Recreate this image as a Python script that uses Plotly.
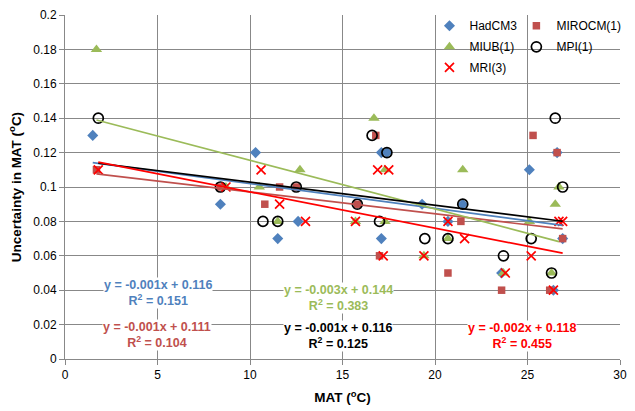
import numpy as np
import plotly.graph_objects as go

# ---------------- data ----------------
had_x = [1.5, 8.4, 10.3, 11.5, 12.6, 17.1, 17.4, 17.1, 19.3, 20.7, 21.5, 23.6, 25.1, 26.4, 26.6, 26.9]
had_y = [0.13, 0.09, 0.12, 0.07, 0.08, 0.12, 0.12, 0.07, 0.09, 0.08, 0.09, 0.05, 0.11, 0.04, 0.12, 0.07]

miroc_x = [1.7, 8.4, 10.8, 11.6, 12.5, 15.8, 16.8, 17.0, 20.7, 21.4, 23.6, 25.3, 26.2, 26.6, 26.9]
miroc_y = [0.11, 0.10, 0.09, 0.10, 0.10, 0.09, 0.13, 0.06, 0.05, 0.08, 0.04, 0.13, 0.04, 0.12, 0.07]

miub_x = [1.7, 8.7, 10.5, 11.5, 12.7, 15.7, 16.7, 17.3, 17.3, 19.4, 20.7, 21.5, 23.7, 25.1, 26.3, 26.5, 26.7]
miub_y = [0.18, 0.10, 0.10, 0.08, 0.11, 0.08, 0.14, 0.11, 0.08, 0.06, 0.07, 0.11, 0.05, 0.08, 0.05, 0.09, 0.10]

mpi_x = [1.8, 8.4, 10.7, 11.5, 12.5, 15.8, 16.6, 17.0, 17.4, 19.45, 20.7, 21.5, 23.7, 25.2, 26.3, 26.5, 26.9]
mpi_y = [0.14, 0.10, 0.08, 0.08, 0.10, 0.09, 0.13, 0.08, 0.12, 0.07, 0.07, 0.09, 0.06, 0.07, 0.05, 0.14, 0.10]

mri_x = [1.8, 8.7, 10.6, 11.6, 13.0, 15.7, 16.9, 17.2, 17.5, 19.4, 20.7, 21.6, 23.8, 25.2, 26.4, 26.7, 26.9]
mri_y = [0.11, 0.10, 0.11, 0.09, 0.08, 0.08, 0.11, 0.06, 0.11, 0.06, 0.08, 0.07, 0.05, 0.06, 0.04, 0.08, 0.08]

series_names = ["HadCM3", "MIROCM(1)", "MIUB(1)", "MPI(1)", "MRI(3)"]
trend_labels = [
    "y = -0.001x + 0.116<br>R<sup>2</sup> = 0.151",
    "y = -0.001x + 0.111<br>R<sup>2</sup> = 0.104",
    "y = -0.003x + 0.144<br>R<sup>2</sup> = 0.383",
    "y = -0.001x + 0.116<br>R<sup>2</sup> = 0.125",
    "y = -0.002x + 0.118<br>R<sup>2</sup> = 0.455",
]
y_tickvals = [0, 0.02, 0.04, 0.06, 0.08, 0.1, 0.12, 0.14, 0.16, 0.18, 0.2]
y_ticktext = ["0", "0.02", "0.04", "0.06", "0.08", "0.1", "0.12", "0.14", "0.16", "0.18", "0.2"]
x_tickvals = [0, 5, 10, 15, 20, 25, 30]

# ---------------- styles ----------------
FONT = "Liberation Sans, Arial, sans-serif"
GRID = "#888888"
colors = ["#4F81BD", "#C0504D", "#9BBB59", "#000000", "#FF0000"]
symbols = ["diamond", "square", "triangle-up", "circle-open", "x-thin-open"]
sizes = [8.5, 7.5, 10, 10, 9]
legend_ids = ["legend", "legend2", "legend3", "legend4", "legend5"]
# legend grid placement (paper coords): two columns, three rows
col_x = [0.6567, 0.8133]
row_y = [0.9686, 0.9076, 0.8476]
legend_cells = [(0, 0), (1, 0), (0, 1), (1, 1), (0, 2)]
label_pos = [(5.05, 0.0383), (4.98, 0.0137), (14.76, 0.0357), (14.74, 0.0133), (24.7, 0.0134)]

data = [(had_x, had_y), (miroc_x, miroc_y), (miub_x, miub_y), (mpi_x, mpi_y), (mri_x, mri_y)]

fig = go.Figure()

for i, (xs, ys) in enumerate(data):
    marker = dict(symbol=symbols[i], size=sizes[i], color=colors[i])
    if symbols[i].endswith("open"):
        marker["line"] = dict(width=1.7, color=colors[i])
    else:
        marker["line"] = dict(width=0)
    fig.add_trace(go.Scatter(
        x=xs, y=ys, mode="markers", name=series_names[i],
        marker=marker, legend=legend_ids[i], showlegend=True,
    ))

# trendlines (least squares fit of each series)
for i, (xs, ys) in enumerate(data):
    xa = np.array(xs)
    ya = np.array(ys)
    m, b = np.polyfit(xa, ya, 1)
    lx = np.array([xa.min(), xa.max()])
    fig.add_trace(go.Scatter(
        x=lx, y=m * lx + b, mode="lines",
        line=dict(color=colors[i], width=1.7),
        showlegend=False, hoverinfo="skip",
    ))

for i, (ax, ay) in enumerate(label_pos):
    fig.add_annotation(
        x=ax, y=ay, xref="x", yref="y", text=trend_labels[i], showarrow=False,
        font=dict(family=FONT, size=12.5, color=colors[i], weight="bold"),
        bgcolor="white", borderpad=0, align="center",
    )

# white background behind the legend block
fig.add_shape(type="rect", xref="paper", yref="paper",
              x0=0.6705, x1=0.993, y0=0.806, y1=0.995,
              fillcolor="white", line=dict(width=0), layer="between")

leg_common = dict(orientation="h", xanchor="left", yanchor="middle",
                  bgcolor="rgba(0,0,0,0)", borderwidth=0,
                  font=dict(family=FONT, size=12, color="#000000"),
                  itemclick=False, itemdoubleclick=False)

legend_layout = {}
for lid, (c, r) in zip(legend_ids, legend_cells):
    legend_layout[lid] = dict(x=col_x[c], y=row_y[r], **leg_common)

fig.update_layout(
    width=635, height=411,
    margin=dict(l=65, r=8, t=10, b=51),
    paper_bgcolor="white", plot_bgcolor="white",
    font=dict(family=FONT, size=12, color="#000000"),
    xaxis=dict(
        range=[0, 30], tickvals=x_tickvals, showgrid=True, gridcolor=GRID, gridwidth=1,
        showline=True, linecolor=GRID, linewidth=1, ticks="outside", ticklen=5,
        tickcolor=GRID, zeroline=False, tickfont=dict(family=FONT, size=12, color="#000000"),
        title=dict(text="MAT (<sup>o</sup>C)", font=dict(family=FONT, size=13.5, weight="bold"),
                   standoff=11),
    ),
    yaxis=dict(
        range=[0, 0.2], tickvals=y_tickvals, ticktext=y_ticktext, showgrid=True,
        gridcolor=GRID, gridwidth=1, showline=True, linecolor=GRID, linewidth=1,
        ticks="outside", ticklen=5, tickcolor=GRID, zeroline=False,
        tickfont=dict(family=FONT, size=12, color="#000000"),
        title=dict(text="Uncertainty in MAT (<sup>o</sup>C)",
                   font=dict(family=FONT, size=13.5, weight="bold"), standoff=8),
    ),
    **legend_layout,
)

fig.write_html("out.html")
